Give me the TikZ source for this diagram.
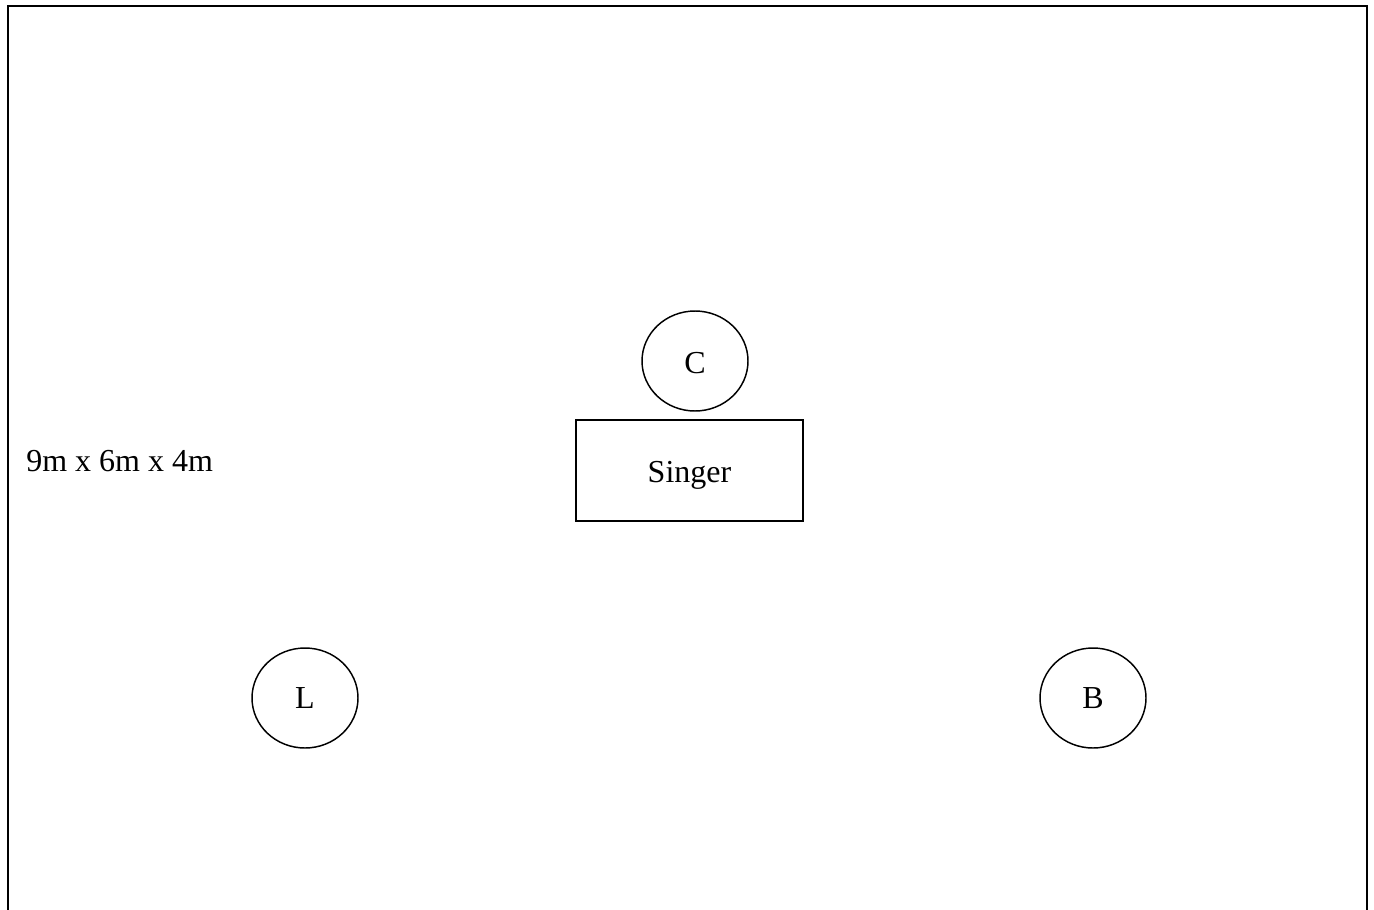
\documentclass[tikz,border=0pt]{standalone}
\usepackage{fontspec}
\setmainfont{Liberation Serif}
\usetikzlibrary{shapes.geometric}
\begin{document}
\begin{tikzpicture}[x=0.75pt,y=-0.75pt,
  every node/.style={font=\fontsize{24}{28}\selectfont},
  spk/.style={draw,ellipse,line width=1.1pt,minimum width=79.5pt,minimum height=75pt,inner sep=0pt},
  box/.style={draw,rectangle,line width=1.1pt,minimum width=170pt,minimum height=75.5pt},
  wall/.style={line width=1.5pt}]
\useasboundingbox (0,0) rectangle (1374,910);
\draw[wall] (8,910) -- (8,6) -- (1367,6) -- (1367,910);
\node[spk] (C) at (695,361) {\raisebox{-1.5pt}[\height][\depth]{C}};
\node[box] (S) at (689.5,470.5) {\raisebox{-3.5pt}[\height][\depth]{Singer}};
\node[spk] (L) at (305,698) {L};
\node[spk] (B) at (1093,698) {B};
\node[anchor=west,inner sep=0pt] (dim) at (26,461) {9m x 6m x 4m};
\end{tikzpicture}
\end{document}
